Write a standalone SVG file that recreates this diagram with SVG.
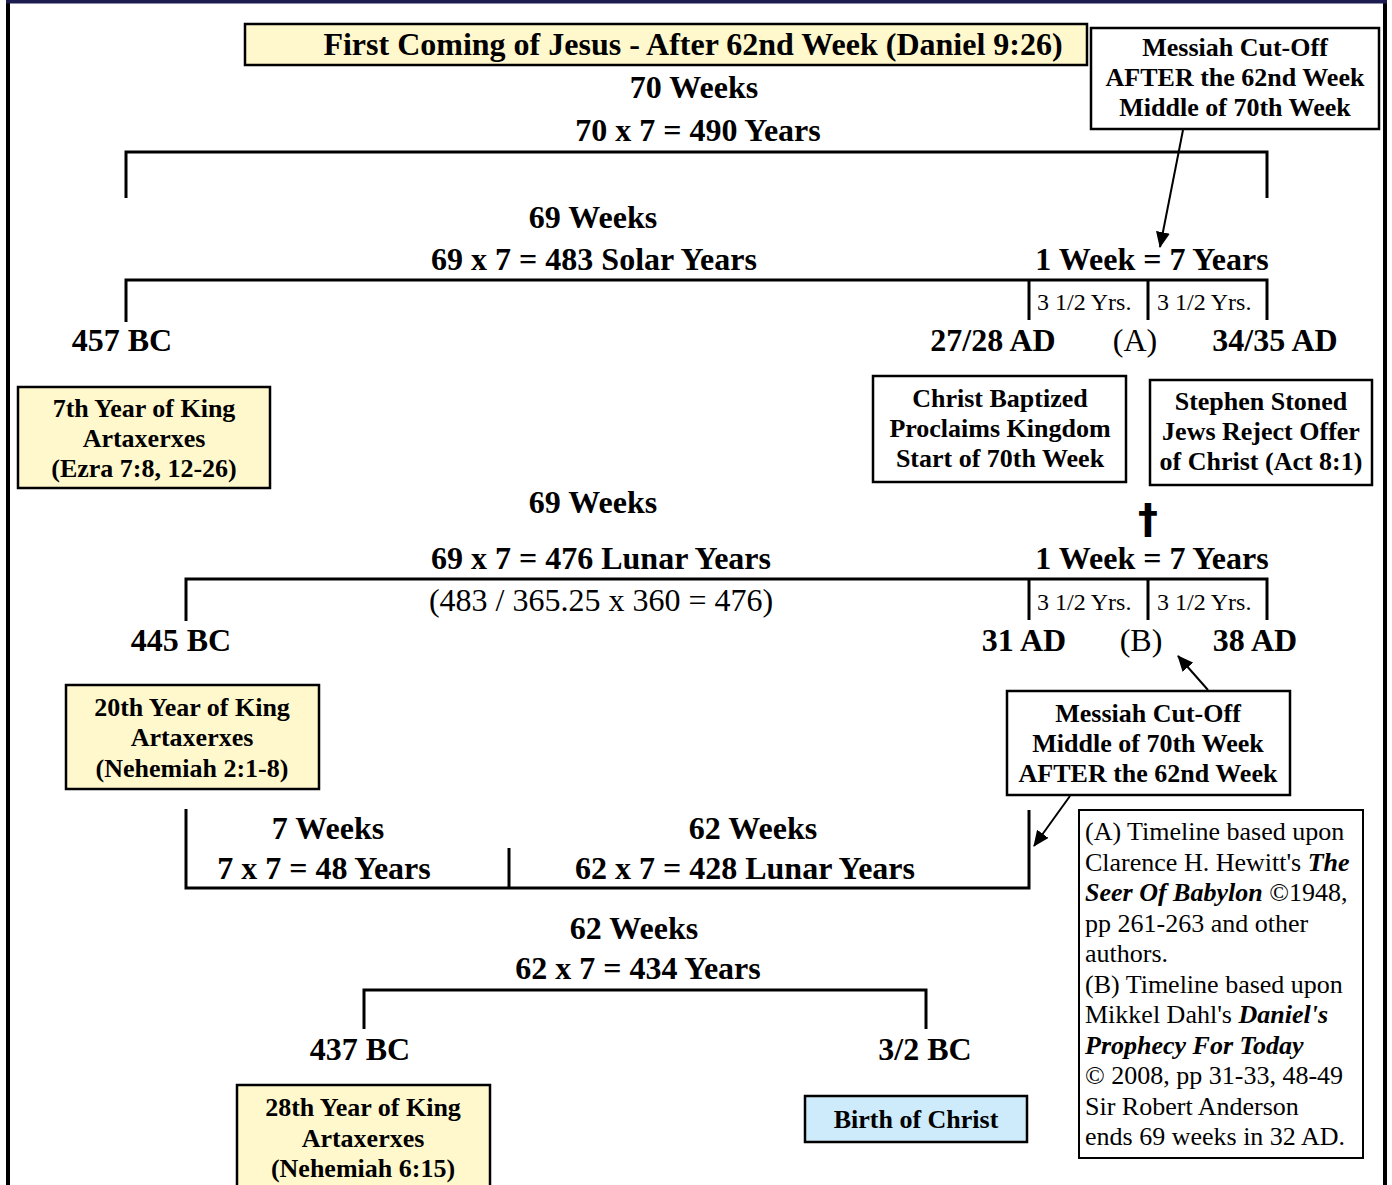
<svg xmlns="http://www.w3.org/2000/svg" width="1392" height="1185" viewBox="0 0 1392 1185">
<style>
text{font-family:"Liberation Serif","Times New Roman",serif;fill:#000}
.big{font-size:32px;font-weight:bold;text-anchor:middle}
.reg{font-size:32px;text-anchor:middle}
.bx{font-size:26px;font-weight:bold;text-anchor:middle}
.half{font-size:24px}
.note{font-size:26px}
.bi{font-weight:bold;font-style:italic}
.box{stroke:#000;stroke-width:2.5}
.yel{fill:#FFF8CC}
.wht{fill:#fff}
.blu{fill:#CDEBFA}
.ln{stroke:#000;stroke-width:3;fill:none}
.arr{stroke:#000;stroke-width:2;fill:none;marker-end:url(#ah)}
.cross{font-family:"DejaVu Sans",sans-serif;font-size:40px;font-weight:bold;text-anchor:middle}
</style>
<defs>
<marker id="ah" markerUnits="userSpaceOnUse" markerWidth="16" markerHeight="14" refX="15" refY="7" orient="auto">
<path d="M0,0 L16,7 L0,14 z" fill="#000"/>
</marker>
</defs>
<rect width="1392" height="1185" fill="#fff"/>
<g id="frame">
<line x1="8" y1="0" x2="8" y2="1185" stroke="#000" stroke-width="4"/>
<line x1="1385" y1="0" x2="1385" y2="1185" stroke="#000" stroke-width="4"/>
<line x1="6" y1="1.5" x2="1387" y2="1.5" stroke="#1c1c50" stroke-width="4"/>
</g>

<g id="title">
<rect class="box yel" x="245" y="24" width="842" height="41"/>
<text class="big" x="693" y="55">First Coming of Jesus - After 62nd Week (Daniel 9:26)</text>
</g>

<g id="messiah-top">
<rect class="box wht" x="1091" y="28" width="288" height="101"/>
<text class="bx" x="1235" y="56">Messiah Cut-Off</text>
<text class="bx" x="1235" y="86">AFTER the 62nd Week</text>
<text class="bx" x="1235" y="116">Middle of 70th Week</text>
</g>

<g id="timeline-70">
<text class="big" x="694" y="98">70 Weeks</text>
<text class="big" x="698" y="141">70 x 7 = 490 Years</text>
<path class="ln" d="M126,198 V152 H1267 V198"/>
</g>

<g id="timeline-69-solar">
<text class="big" x="593" y="228">69 Weeks</text>
<text class="big" x="594" y="270">69 x 7 = 483 Solar Years</text>
<text class="big" x="1152" y="270">1 Week = 7 Years</text>
<path class="ln" d="M126,322 V280 H1267 V320"/>
<line class="ln" x1="1029" y1="280" x2="1029" y2="320"/>
<line class="ln" x1="1148" y1="280" x2="1148" y2="320"/>
<text class="half" x="1037" y="310">3 1/2 Yrs.</text>
<text class="half" x="1157" y="310">3 1/2 Yrs.</text>
<text class="big" x="122" y="351">457 BC</text>
<text class="big" x="993" y="351">27/28 AD</text>
<text class="reg" x="1135" y="351">(A)</text>
<text class="big" x="1275" y="351">34/35 AD</text>
</g>

<g id="ezra">
<rect class="box yel" x="18" y="387" width="252" height="101"/>
<text class="bx" x="144" y="417">7th Year of King</text>
<text class="bx" x="144" y="447">Artaxerxes</text>
<text class="bx" x="144" y="477">(Ezra 7:8, 12-26)</text>
</g>

<g id="baptized">
<rect class="box wht" x="873" y="376" width="253" height="106"/>
<text class="bx" x="1000" y="407">Christ Baptized</text>
<text class="bx" x="1000" y="437">Proclaims Kingdom</text>
<text class="bx" x="1000" y="467">Start of 70th Week</text>
</g>

<g id="stephen">
<rect class="box wht" x="1150" y="380" width="222" height="105"/>
<text class="bx" x="1261" y="410">Stephen Stoned</text>
<text class="bx" x="1261" y="440">Jews Reject Offer</text>
<text class="bx" x="1261" y="470">of Christ (Act 8:1)</text>
</g>

<g id="timeline-69-lunar">
<text class="big" x="593" y="513">69 Weeks</text>
<text class="cross" x="1148" y="533">†</text>
<text class="big" x="601" y="569">69 x 7 = 476 Lunar Years</text>
<text class="big" x="1152" y="569">1 Week = 7 Years</text>
<path class="ln" d="M186,621 V579 H1267 V620"/>
<line class="ln" x1="1029" y1="579" x2="1029" y2="620"/>
<line class="ln" x1="1148" y1="579" x2="1148" y2="620"/>
<text class="reg" x="601" y="611">(483 / 365.25 x 360 = 476)</text>
<text class="half" x="1037" y="610">3 1/2 Yrs.</text>
<text class="half" x="1157" y="610">3 1/2 Yrs.</text>
<text class="big" x="181" y="651">445 BC</text>
<text class="big" x="1024" y="651">31 AD</text>
<text class="reg" x="1141" y="651">(B)</text>
<text class="big" x="1255" y="651">38 AD</text>
</g>

<g id="nehemiah2">
<rect class="box yel" x="66" y="685" width="253" height="104"/>
<text class="bx" x="192" y="716">20th Year of King</text>
<text class="bx" x="192" y="746">Artaxerxes</text>
<text class="bx" x="192" y="777">(Nehemiah 2:1-8)</text>
</g>

<g id="messiah-mid">
<rect class="box wht" x="1007" y="691" width="283" height="104"/>
<text class="bx" x="1148" y="722">Messiah Cut-Off</text>
<text class="bx" x="1148" y="752">Middle of 70th Week</text>
<text class="bx" x="1148" y="782">AFTER the 62nd Week</text>
</g>

<g id="timeline-7-62">
<path class="ln" d="M186,809 V888 H1029 V810"/>
<line class="ln" x1="509" y1="848" x2="509" y2="888"/>
<text class="big" x="328" y="839">7 Weeks</text>
<text class="big" x="324" y="879">7 x 7 = 48 Years</text>
<text class="big" x="753" y="839">62 Weeks</text>
<text class="big" x="745" y="879">62 x 7 = 428 Lunar Years</text>
</g>

<g id="notes">
<rect class="box wht" x="1079" y="810" width="284" height="348" style="stroke-width:2"/>
<text class="note" x="1085" y="840">(A) Timeline based upon</text>
<text class="note" x="1085" y="871">Clarence H. Hewitt's <tspan class="bi">The</tspan></text>
<text class="note" x="1085" y="901"><tspan class="bi">Seer Of Babylon</tspan> ©1948,</text>
<text class="note" x="1085" y="932">pp 261-263 and other</text>
<text class="note" x="1085" y="962">authors.</text>
<text class="note" x="1085" y="993">(B) Timeline based upon</text>
<text class="note" x="1085" y="1023">Mikkel Dahl's <tspan class="bi">Daniel's</tspan></text>
<text class="note" x="1085" y="1054"><tspan class="bi">Prophecy For Today</tspan></text>
<text class="note" x="1085" y="1084">© 2008, pp 31-33, 48-49</text>
<text class="note" x="1085" y="1115">Sir Robert Anderson</text>
<text class="note" x="1085" y="1145">ends 69 weeks in 32 AD.</text>
</g>

<g id="timeline-62">
<text class="big" x="634" y="939">62 Weeks</text>
<text class="big" x="638" y="979">62 x 7 = 434 Years</text>
<path class="ln" d="M364,1029 V990 H926 V1029"/>
<text class="big" x="360" y="1060">437 BC</text>
<text class="big" x="925" y="1060">3/2 BC</text>
</g>

<g id="nehemiah6">
<rect class="box yel" x="237" y="1085" width="253" height="110"/>
<text class="bx" x="363" y="1116">28th Year of King</text>
<text class="bx" x="363" y="1147">Artaxerxes</text>
<text class="bx" x="363" y="1177">(Nehemiah 6:15)</text>
</g>

<g id="birth">
<rect class="box blu" x="805" y="1096" width="222" height="46"/>
<text class="bx" x="916" y="1128">Birth of Christ</text>
</g>

<g id="connectors">
<line class="arr" x1="1183" y1="130" x2="1160" y2="247"/>
<line class="arr" x1="1208" y1="690" x2="1178" y2="656"/>
<line class="arr" x1="1070" y1="796" x2="1034" y2="846"/>
</g>
</svg>
